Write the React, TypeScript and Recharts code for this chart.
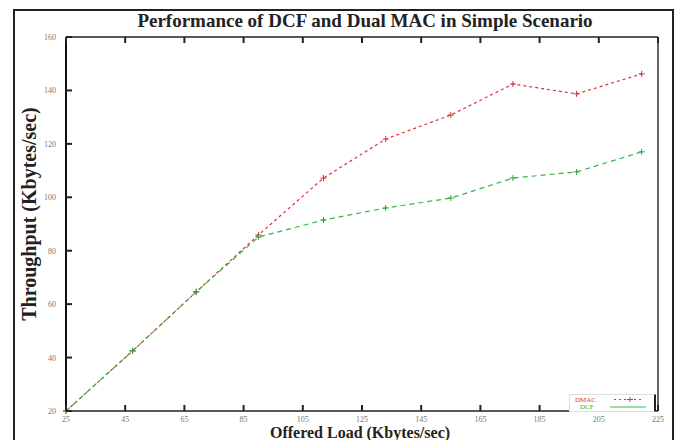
import React from "react";
import { LineChart, Line, XAxis, YAxis } from "recharts";

const offeredLoad = [25, 47.5, 69, 90, 112, 133, 155, 176, 197.5, 219.5];
const dmacThroughput = [20, 42.5, 64.6, 85.9, 107.2, 121.8, 130.8, 142.4, 138.7, 146.2];
const dcfThroughput = [20, 42.5, 64.6, 85.1, 91.5, 96, 99.7, 107.2, 109.5, 117];
const xTicks = [25, 45, 65, 85, 105, 125, 145, 165, 185, 205, 225];
const yTicks = [20, 40, 60, 80, 100, 120, 140, 160];
const seriesNames = ["DMAC", "DCF"];

const data = offeredLoad.map((x, i) => ({
  x,
  dmac: dmacThroughput[i],
  dcf: dcfThroughput[i],
}));

const Cross = (color: string) => (props: any) => {
  const { cx, cy, index } = props;
  if (cx == null || cy == null) return null;
  return (
    <g key={index}>
      <line x1={cx - 3} y1={cy} x2={cx + 3} y2={cy} stroke={color} strokeWidth={1} />
      <line x1={cx} y1={cy - 3} x2={cx} y2={cy + 3} stroke={color} strokeWidth={1} />
    </g>
  );
};

const TICK_LEN = 6;
const X_MARGIN = 10;
const Y_MARGIN = 10;
const labelFont = { fontSize: 8, fill: "#777", fontFamily: "Liberation Serif" };

const BottomTick = (props: any) => {
  const { x, y, payload } = props;
  const ay = y - X_MARGIN;
  return (
    <g>
      <line x1={x} y1={ay} x2={x} y2={ay - TICK_LEN} stroke="#222" strokeWidth={2} />
      <text x={x} y={y + 1} textAnchor="middle" {...labelFont}>{payload.value}</text>
    </g>
  );
};

const TopTick = (props: any) => {
  const { x, y } = props;
  return <line x1={x} y1={y} x2={x} y2={y + TICK_LEN} stroke="#222" strokeWidth={2} />;
};

const LeftTick = (props: any) => {
  const { x, y, payload } = props;
  const ax = x + Y_MARGIN;
  return (
    <g>
      <line x1={ax} y1={y} x2={ax + TICK_LEN} y2={y} stroke="#222" strokeWidth={2} />
      <text x={x} y={y + 3} textAnchor="end" {...labelFont}>{payload.value}</text>
    </g>
  );
};

const RightTick = (props: any) => {
  const { x, y } = props;
  return <line x1={x} y1={y} x2={x - TICK_LEN} y2={y} stroke="#333" strokeWidth={2} />;
};

const LegendBox = () => (
  <div
    style={{
      position: "absolute",
      left: 569,
      top: 394,
      width: 84,
      height: 16,
      border: "1px solid #ddd",
      borderRight: "2px solid #222",
      background: "#fff",
    }}
  >
    <svg width={84} height={16} style={{ position: "absolute", left: 0, top: 0 }}>
      <text x={5} y={7} fill="#e0303a" fontSize={7} fontFamily="Liberation Serif">{seriesNames[0]}</text>
      <text x={10} y={14} fill="#30b830" fontSize={7} fontFamily="Liberation Serif">{seriesNames[1]}</text>
      <line x1={44} y1={4.5} x2={74} y2={4.5} stroke="#e0303a" strokeDasharray="2 3" />
      <line x1={60} y1={2} x2={60} y2={7} stroke="#e0303a" />
      <line x1={57} y1={4.5} x2={63} y2={4.5} stroke="#e0303a" />
      <line x1={40} y1={12} x2={76} y2={12} stroke="#30c040" strokeWidth={1.2} />
    </svg>
  </div>
);

export default function App() {
  return (
    <div style={{ position: "absolute", left: 0, top: 0, width: 683, height: 440, background: "#fff", overflow: "hidden" }}>
      <div
        style={{
          position: "absolute",
          left: 13,
          top: 9,
          width: 661,
          height: 440,
          border: "2px solid #222",
          boxSizing: "border-box",
        }}
      />
      <div
        style={{
          position: "absolute",
          left: 365,
          top: 21,
          transform: "translate(-50%, -50%)",
          whiteSpace: "nowrap",
          fontFamily: "Liberation Serif",
          fontWeight: "bold",
          fontSize: 19,
          color: "#222",
        }}
      >
        Performance of DCF and Dual MAC in Simple Scenario
      </div>
      <div
        style={{
          position: "absolute",
          left: 29,
          top: 214,
          transform: "translate(-50%, -50%) rotate(-90deg)",
          whiteSpace: "nowrap",
          fontFamily: "Liberation Serif",
          fontWeight: "bold",
          fontSize: 20,
          color: "#222",
        }}
      >
        Throughput (Kbytes/sec)
      </div>
      <div
        style={{
          position: "absolute",
          left: 360,
          top: 433,
          transform: "translate(-50%, -50%)",
          whiteSpace: "nowrap",
          fontFamily: "Liberation Serif",
          fontWeight: "bold",
          fontSize: 16,
          lineHeight: "16px",
          color: "#222",
        }}
      >
        Offered Load (Kbytes/sec)
      </div>
      <div style={{ position: "absolute", left: 0, top: 0 }}>
        <LineChart
          width={683}
          height={440}
          data={data}
          margin={{ top: 36, right: 24, bottom: 9, left: 26 }}
        >
          <XAxis
            dataKey="x"
            type="number"
            domain={[25, 225]}
            ticks={xTicks}
            interval={0}
            height={20}
            tickSize={0}
            tickMargin={X_MARGIN}
            tick={<BottomTick />}
            tickLine={false}
            axisLine={{ stroke: "#222", strokeWidth: 1.5 }}
          />
          <XAxis
            xAxisId="top"
            orientation="top"
            dataKey="x"
            type="number"
            domain={[25, 225]}
            ticks={xTicks}
            interval={0}
            height={1}
            tickSize={0}
            tickMargin={0}
            tick={<TopTick />}
            tickLine={false}
            axisLine={{ stroke: "#222", strokeWidth: 1.5 }}
          />
          <YAxis
            type="number"
            domain={[20, 160]}
            ticks={yTicks}
            interval={0}
            width={40}
            tickSize={0}
            tickMargin={Y_MARGIN}
            tick={<LeftTick />}
            tickLine={false}
            axisLine={{ stroke: "#111", strokeWidth: 2 }}
          />
          <YAxis
            yAxisId="right"
            orientation="right"
            type="number"
            domain={[20, 160]}
            ticks={yTicks}
            interval={0}
            width={1}
            tickSize={0}
            tickMargin={0}
            tick={<RightTick />}
            tickLine={false}
            axisLine={{ stroke: "#333", strokeWidth: 1.5 }}
          />
          <Line
            dataKey="dmac"
            name={seriesNames[0]}
            stroke="#e0303a"
            strokeWidth={1.2}
            strokeDasharray="3 3"
            dot={Cross("#d03040")}
            isAnimationActive={false}
          />
          <Line
            dataKey="dcf"
            name={seriesNames[1]}
            stroke="#30b840"
            strokeWidth={1.2}
            strokeDasharray="5 4"
            dot={Cross("#30a040")}
            isAnimationActive={false}
          />
        </LineChart>
      </div>
      <LegendBox />
    </div>
  );
}
